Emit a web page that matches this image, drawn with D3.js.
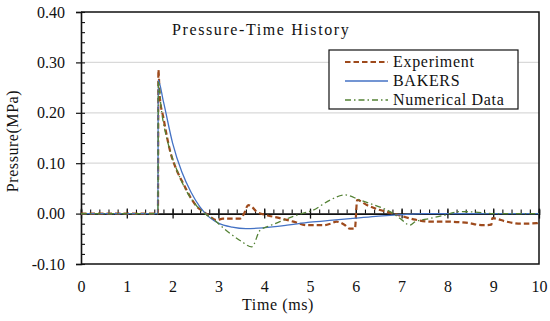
<!DOCTYPE html>
<html>
<head>
<meta charset="utf-8">
<script src="https://cdn.jsdelivr.net/npm/d3@7"></script>
<style>
  body { margin: 0; background: #fff; }
  text { fill: #111; }
</style>
</head>
<body>
<svg id="chart" width="550" height="321"></svg>
<script>
// values
const xTicks = [0, 1, 2, 3, 4, 5, 6, 7, 8, 9, 10];
const yTicks = [-0.1, 0, 0.1, 0.2, 0.3, 0.4];

const expT = [0, 1.68, 1.69, 1.72, 1.8, 1.94, 2.09, 2.23, 2.38, 2.53, 2.67, 2.8, 2.96, 3.1, 3.3, 3.47, 3.56, 3.65, 3.75, 3.83, 4.05, 4.34, 4.64, 4.93, 5.29, 5.45, 5.58, 5.75, 5.87, 5.98, 6.03, 6.24, 6.53, 6.82, 7.04, 7.3, 7.62, 8.0, 8.4, 8.78, 8.96, 8.98, 9.29, 9.6, 9.95, 10];
const expP = [0, 0, 0.285, 0.232, 0.19, 0.126, 0.086, 0.06, 0.034, 0.014, 0.004, -0.005, -0.013, -0.01, -0.01, -0.01, 0.0, 0.017, 0.012, 0.004, -0.003, -0.009, -0.016, -0.023, -0.023, -0.02, -0.016, -0.022, -0.03, -0.03, 0.027, 0.017, 0.007, 0.0, -0.006, -0.012, -0.016, -0.016, -0.018, -0.023, -0.022, -0.009, -0.016, -0.02, -0.019, -0.018];

const bakT = [0, 1.68, 1.685, 1.8, 2.0, 2.2, 2.4, 2.6, 2.8, 3.0, 3.3, 3.6, 4.0, 4.5, 5.0, 5.5, 6.0, 6.5, 7.0, 7.5, 8, 9, 10];
const bakP = [0, 0, 0.265, 0.222, 0.14, 0.083, 0.043, 0.013, -0.007, -0.019, -0.027, -0.03, -0.028, -0.023, -0.017, -0.013, -0.009, -0.005, -0.002, 0, 0, 0, 0];

const numT = [0, 1.68, 1.69, 1.75, 1.9, 2.1, 2.3, 2.5, 2.7, 2.9, 3.1, 3.25, 3.5, 3.73, 3.91, 4.1, 4.34, 4.71, 5.07, 5.44, 5.76, 6.09, 6.31, 6.53, 6.82, 7.0, 7.18, 7.3, 7.6, 7.9, 8.3, 8.6, 9.0, 10];
const numP = [0, 0, 0.262, 0.21, 0.14, 0.085, 0.045, 0.018, 0.0, -0.012, -0.028, -0.039, -0.055, -0.066, -0.033, -0.025, -0.016, -0.003, 0.007, 0.027, 0.037, 0.027, 0.02, 0.013, 0.0, -0.012, -0.023, -0.016, -0.01, -0.004, 0.004, 0.003, 0.0, 0.0];

const series = [
  { name: "Experiment", t: expT, p: expP, color: "#9e4a1c", width: 2.2, dash: "5.5,3" },
  { name: "BAKERS", t: bakT, p: bakP, color: "#4472c4", width: 1.3, dash: null },
  { name: "Numerical Data", t: numT, p: numP, color: "#548235", width: 1.3, dash: "6,3,1.5,3" }
];

const serif = "'Liberation Serif', serif";

const svg = d3.select("#chart");
const mLeft = 81, mRight = 539, mTop = 12, mBottom = 264;

const x = d3.scaleLinear().domain([0, 10]).range([mLeft, mRight]);
const y = d3.scaleLinear().domain([-0.1, 0.4]).range([mBottom, mTop]);

// grid
svg.append("g")
  .selectAll("line")
  .data([0.1, 0.2, 0.3])
  .join("line")
  .attr("x1", mLeft).attr("x2", mRight)
  .attr("y1", d => y(d)).attr("y2", d => y(d))
  .attr("stroke", "#d9d9d9").attr("stroke-width", 1.2);

// frame: top, right, bottom
svg.append("path")
  .attr("d", `M${mLeft},${y(0.4)}H${mRight}V${y(-0.1)}H${mLeft}`)
  .attr("fill", "none").attr("stroke", "#111").attr("stroke-width", 1.5);

// y axis, major ticks outward with labels
const fmt = d => (d < 0 ? "-" : "") + d3.format(".2f")(Math.abs(d));
const yAxis = svg.append("g")
  .attr("transform", `translate(${mLeft},0)`)
  .call(d3.axisLeft(y).tickValues(yTicks).tickSize(5).tickPadding(11).tickFormat(fmt));
yAxis.attr("font-family", serif).attr("font-size", 16);
yAxis.select(".domain").attr("stroke", "#111").attr("stroke-width", 1.6);
yAxis.selectAll(".tick line").attr("stroke", "#111").attr("stroke-width", 1.2);
yAxis.selectAll("text").attr("fill", "#111");

// y minor ticks inward
const yMinor = d3.range(-0.1, 0.4001, 0.02);
const yIn = svg.append("g")
  .attr("transform", `translate(${mLeft},0)`)
  .call(d3.axisRight(y).tickValues(yMinor).tickSize(4).tickFormat(""));
yIn.select(".domain").remove();
yIn.selectAll(".tick line").attr("stroke", "#111").attr("stroke-width", 1.1);

// x axis through zero
const xMinor = d3.range(0, 10.001, 0.2);
const xUp = svg.append("g")
  .attr("transform", `translate(0,${y(0)})`)
  .call(d3.axisTop(x).tickValues(xMinor).tickSize(4).tickFormat(""));
xUp.select(".domain").attr("stroke", "#111").attr("stroke-width", 1.6);
xUp.selectAll(".tick line").attr("stroke", "#111").attr("stroke-width", 1.1);

const xMaj = svg.append("g")
  .attr("transform", `translate(0,${y(0) - 5})`)
  .call(d3.axisBottom(x).tickValues(xTicks).tickSize(10).tickFormat(""));
xMaj.select(".domain").remove();
xMaj.selectAll(".tick line").attr("stroke", "#111").attr("stroke-width", 1.3);

// x tick labels at the bottom
const xLab = svg.append("g")
  .attr("transform", `translate(0,${mBottom})`)
  .call(d3.axisBottom(x).tickValues(xTicks).tickSize(0).tickPadding(17).tickFormat(d3.format("d")));
xLab.attr("font-family", serif).attr("font-size", 16);
xLab.select(".domain").remove();
xLab.selectAll("text").attr("fill", "#111");

// lines
const line = d3.line()
  .x(d => x(d[0]))
  .y(d => y(d[1]))
  .curve(d3.curveMonotoneX);

series.forEach(s => {
  svg.append("path")
    .datum(s.t.map((t, i) => [t, s.p[i]]))
    .attr("d", line)
    .attr("fill", "none")
    .attr("stroke", s.color)
    .attr("stroke-width", s.width)
    .attr("stroke-dasharray", s.dash);
});

// title
svg.append("text")
  .attr("x", 172).attr("y", 35)
  .attr("font-family", serif)
  .attr("font-size", 16)
  .style("letter-spacing", "1.6px")
  .text("Pressure-Time History");

// axis titles
svg.append("text")
  .attr("x", 278).attr("y", 310)
  .attr("text-anchor", "middle")
  .attr("font-family", serif)
  .attr("font-size", 16)
  .style("letter-spacing", "0.6px")
  .text("Time (ms)");

svg.append("text")
  .attr("transform", "translate(18,141) rotate(-90)")
  .attr("text-anchor", "middle")
  .attr("font-family", serif)
  .attr("font-size", 16)
  .style("letter-spacing", "0.55px")
  .text("Pressure(MPa)");

// legend
const legend = svg.append("g").attr("transform", "translate(329,50)");
legend.append("rect")
  .attr("width", 189).attr("height", 59)
  .attr("fill", "#fff").attr("stroke", "#111").attr("stroke-width", 1.2);

const rows = legend.selectAll("g.row")
  .data(series)
  .join("g")
  .attr("class", "row")
  .attr("transform", (d, i) => `translate(0,${12 + i * 19})`);

rows.append("line")
  .attr("x1", 16).attr("x2", 59)
  .attr("stroke", d => d.color)
  .attr("stroke-width", d => d.width)
  .attr("stroke-dasharray", d => d.dash);

rows.append("text")
  .attr("x", 64).attr("y", 5)
  .attr("font-family", serif)
  .attr("font-size", 16)
  .style("letter-spacing", "0.7px")
  .text(d => d.name);
</script>
</body>
</html>
